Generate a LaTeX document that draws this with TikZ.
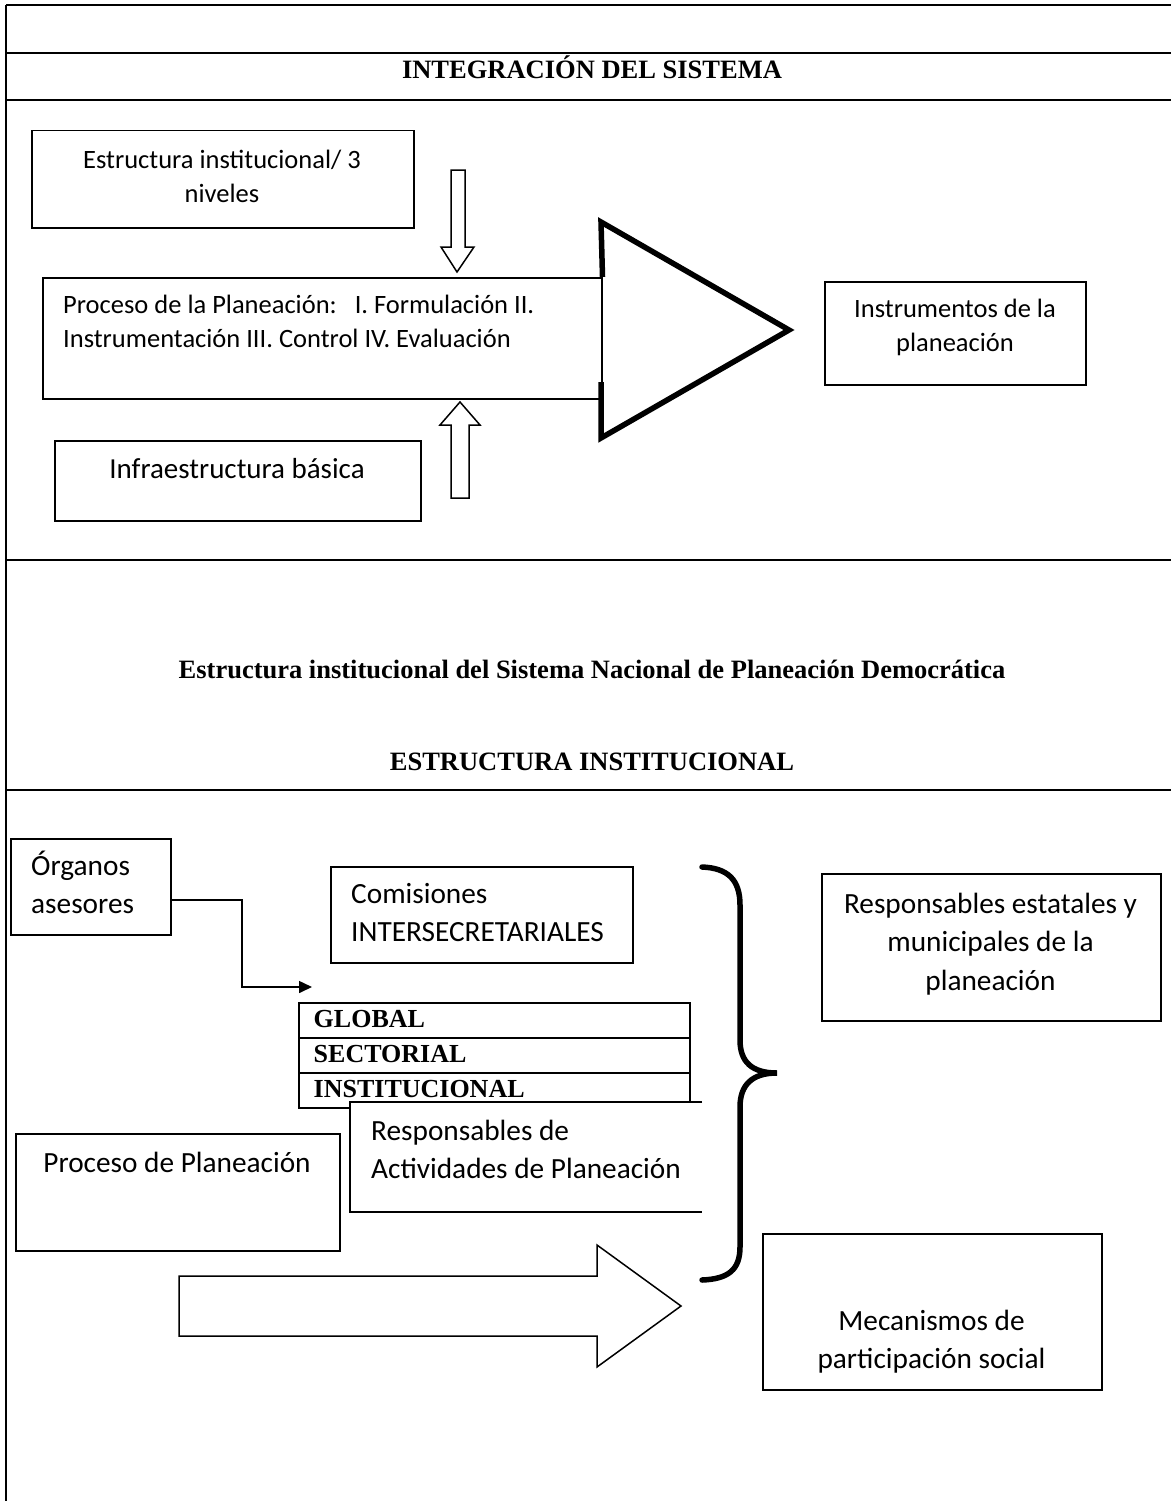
\documentclass[tikz,border=0pt]{standalone}
\usepackage{fontspec}
\setmainfont{Carlito}
\newfontfamily\headfont{Liberation Serif}
\usetikzlibrary{arrows.meta}

% one tabular per multi-line label; [t] keeps the first line on the node baseline
\newcommand\linesc[1]{\begin{tabular}[t]{@{}c@{}}#1\end{tabular}}
\newcommand\linesl[1]{\begin{tabular}[t]{@{}l@{}}#1\end{tabular}}

\tikzset{
  rule/.style={line width=2.4pt},
  frame/.style={draw, line width=1.5pt, fill=white, inner sep=0pt, anchor=north west},
  rowbox/.style={frame, minimum width=391pt, minimum height=35pt},
  uptext/.style={font=\fontsize{26.5}{34.5}\selectfont, inner sep=0pt},
  lowtext/.style={font=\fontsize{29.3}{38.5}\selectfont, inner sep=0pt},
  title/.style={font=\headfont\bfseries\fontsize{26.5}{30}\selectfont, inner sep=0pt, anchor=base},
  rowtext/.style={font=\headfont\bfseries\fontsize{26}{30}\selectfont, inner sep=0pt, anchor=base west},
  hollow/.style={draw, line width=1.5pt, fill=white, line join=miter},
  bighead/.style={draw, line width=5.5pt, line join=miter},
  elbow/.style={line width=1.6pt, -{Triangle[length=13pt,width=12pt]}},
  brace/.style={line width=5.5pt, line cap=round},
}

\begin{document}
\begin{tikzpicture}[x=1pt, y=-1pt]
\useasboundingbox (0,0) rectangle (1171,1501);

% page frame and section rules
\draw[rule] (6,5) -- (6,1501);
\draw[rule] (6,5) -- (1171,5);
\draw[rule] (6,53) -- (1171,53);
\draw[rule] (6,100) -- (1171,100);
\draw[rule] (6,560) -- (1171,560);
\draw[rule] (6,790) -- (1171,790);

% headings
\node[title] (h1) at (592,79) {INTEGRACIÓN DEL SISTEMA};
\node[title] (h2) at (592,678) {Estructura institucional del Sistema Nacional de Planeación Democrática};
\node[title] (h3) at (592,770) {ESTRUCTURA INSTITUCIONAL};

% ---------- integration of the system ----------
\node[frame, minimum width=382pt, minimum height=97pt] (est) at (31,130) {};
\node[uptext, anchor=base] (estT) at (222,168) {\linesc{Estructura institucional/ 3\\niveles}};

\node[frame, minimum width=559pt, minimum height=121pt] (proc) at (42,277) {};
\node[uptext, anchor=base west] (procT) at (63,313)
  {\linesl{Proceso de la Planeación:\ \ \ I. Formulación II.\\Instrumentación III. Control IV. Evaluación}};

% head of the large arrow built on the process box
\draw[bighead] (proc.north east) -- (601,222) -- (789,330) -- (601,438) -- (601,382);

\node[frame, minimum width=366pt, minimum height=80pt] (infra) at (54,440) {};
\node[uptext, font=\fontsize{29}{35}\selectfont, anchor=base] (infraT) at (237,478) {Infraestructura básica};

\node[frame, minimum width=261pt, minimum height=103pt] (instr) at (824,281) {};
\node[uptext, anchor=base] (instrT) at (955,317) {\linesc{Instrumentos de la\\planeación}};

% hollow arrows feeding the process
\draw[hollow] (451,170) -- (465,170) -- (465,247) -- (474,247) -- (457,272)
  -- (441,247) -- (451,247) -- cycle;
\draw[hollow] (451,498) -- (469,498) -- (469,425) -- (480,425) -- (460,402)
  -- (440,425) -- (451,425) -- cycle;

% ---------- institutional structure ----------
\node[frame, minimum width=160pt, minimum height=96pt] (org) at (10,838) {};
\node[lowtext, anchor=base west] (orgT) at (31,875) {\linesl{Órganos\\asesores}};

\node[frame, minimum width=302pt, minimum height=96pt] (com) at (330,866) {};
\node[lowtext, anchor=base west] (comT) at (351,903) {\linesl{Comisiones\\INTERSECRETARIALES}};

\coordinate (tabin) at (312,987);
\draw[elbow] ([yshift=-13pt]org.east) -| (242,987) -- (tabin);

\node[rowbox] (rglobal) at (298,1002) {};
\node[rowbox] (rsector) at (298,1037) {};
\node[rowbox] (rinst) at (298,1072) {};
\node[rowtext] (tglobal) at (313.5,1027) {GLOBAL};
\node[rowtext] (tsector) at (313.5,1062) {SECTORIAL};
\node[rowtext] (tinst) at (313.5,1097) {INSTITUCIONAL};

% open-ended box laid over the table
\fill[white] (350,1102) rectangle (702,1212);
\draw[line width=1.5pt] (702,1102) -- (350,1102) -- (350,1212) -- (702,1212);
\node[lowtext, anchor=base west] (respT) at (371,1140) {\linesl{Responsables de\\Actividades de Planeación}};

\node[frame, minimum width=324pt, minimum height=117pt] (procp) at (15,1133) {};
\node[lowtext, anchor=base] (procpT) at (177,1172) {Proceso de Planeación};

% curly brace
\draw[brace] (702,867) .. controls (728,868) and (740,880) .. (740,905)
  -- (740,1040) .. controls (740,1062) and (752,1073) .. (777,1073)
  .. controls (752,1073) and (740,1085) .. (740,1107)
  -- (740,1247) .. controls (740,1270) and (728,1279) .. (702,1280);

\node[frame, minimum width=339pt, minimum height=147pt] (resest) at (821,873) {};
\node[lowtext, anchor=base] (resestT) at (990.5,913)
  {\linesc{Responsables estatales y\\municipales de la\\planeación}};

\node[frame, minimum width=339pt, minimum height=156pt] (mec) at (762,1233) {};
\node[lowtext, anchor=base] (mecT) at (931.5,1330) {\linesc{Mecanismos de\\participación social}};

% block arrow towards the participation mechanisms
\draw[hollow] (179,1276) -- (597,1276) -- (597,1245) -- (681,1306) -- (597,1367)
  -- (597,1336) -- (179,1336) -- cycle;

\end{tikzpicture}
\end{document}
